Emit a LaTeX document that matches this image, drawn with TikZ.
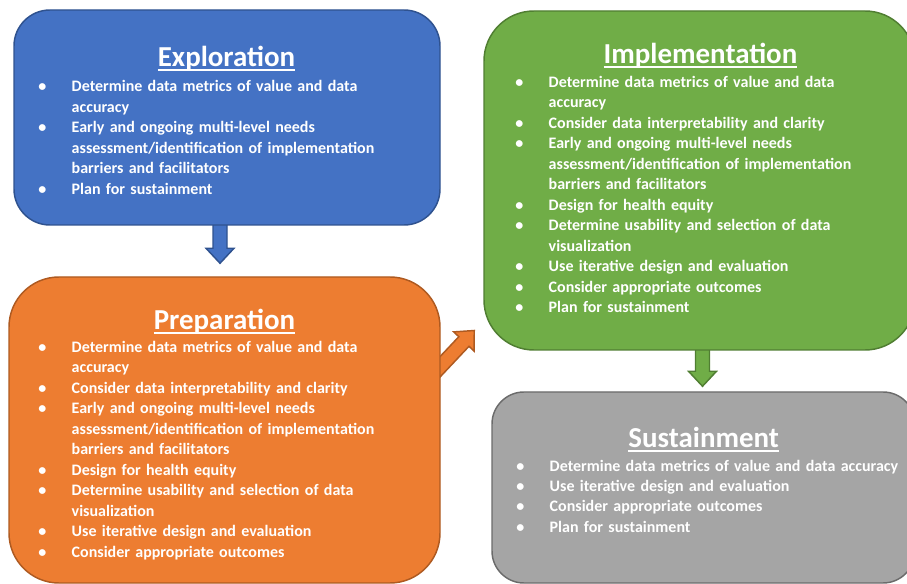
\documentclass[tikz,border=0pt]{standalone}
\usepackage{fontspec}
\setmainfont{Carlito}
\usetikzlibrary{calc,backgrounds}

% phase colours: fill and outline
\definecolor{explfill}{HTML}{4472C4}
\definecolor{explline}{HTML}{2F528F}
\definecolor{implfill}{HTML}{70AD47}
\definecolor{implline}{HTML}{507E32}
\definecolor{prepfill}{HTML}{ED7D31}
\definecolor{prepline}{HTML}{AE5A21}
\definecolor{sustfill}{HTML}{A5A5A5}
\definecolor{sustline}{HTML}{6B6B6B}

% list helpers: bullet line and continuation line
\newcommand\bul{\makebox[22.1pt][l]{\makebox[0pt]{\textbullet}}}
\newcommand\cont{\hspace*{22.1pt}}

% underlined heading with the rule just under the baseline
\newsavebox\headbox
\newcommand\headline[1]{\sbox\headbox{#1}\rlap{\rule[-3.2pt]{\wd\headbox}{1.4pt}}\usebox\headbox}

% block arrow from #1 to #2 (tip), style #3
\newcommand\blockarrow[3]{%
  \draw[#3] let \p1=($(#2)-(#1)$), \n1={atan2(\y1,\x1)}, \n2={veclen(\x1,\y1)}, \n3={\n2-11.25pt} in
    ($(#1)+(\n1+90:5.25pt)$) -- ++(\n1:\n3) -- ++(\n1+90:5.25pt) -- (#2)
    -- ($(#1)+(\n1:\n3)+(\n1-90:10.5pt)$) -- ++(\n1+90:5.25pt)
    -- ($(#1)+(\n1-90:5.25pt)$) -- cycle;}

\begin{document}
\begin{tikzpicture}[x=0.75pt,y=-0.75pt,
  phase/.style={draw, line width=1.1pt, rounded corners=#1, inner sep=0pt},
  heading/.style={anchor=base, inner sep=0pt, text=white,
    font=\fontsize{21.7}{26}\selectfont\bfseries},
  items/.style={anchor=base west, inner sep=0pt, text=white, text width=320pt, align=left,
    font=\fontsize{12.0}{15.375}\selectfont\bfseries},
  flow/.style={line width=1.1pt, line join=miter}]

\useasboundingbox (0,0) rectangle (907,584);
\clip (0,0) rectangle (907,584);

% phase boxes
\node[phase=27pt, fill=explfill, draw=explline, minimum width=319.5pt, minimum height=161.25pt] (expl) at (227,117.5) {};
\node[phase=37.5pt, fill=implfill, draw=implline, minimum width=323.25pt, minimum height=254.25pt] (impl) at (699.5,180.5) {};
\node[phase=37.5pt, fill=prepfill, draw=prepline, minimum width=323.25pt, minimum height=229.5pt] (prep) at (224.5,430) {};
\node[phase=24pt, fill=sustfill, draw=sustline, minimum width=317.25pt, minimum height=143.25pt] (sust) at (703.5,487.5) {};

% Exploration
\node[heading] (explT) at (226.5,66.7) {\headline{Exploration}};
\node[items] (explL) at (42,91.7) {%
\bul Determine data metrics of value and data\\
\cont accuracy\\
\bul Early and ongoing multi-level needs\\
\cont assessment/identification of implementation\\
\cont barriers and facilitators\\
\bul Plan for sustainment};

% Implementation
\node[heading] (implT) at (700.5,63.3) {\headline{Implementation}};
\node[items] (implL) at (519,87.3) {%
\bul Determine data metrics of value and data\\
\cont accuracy\\
\bul Consider data interpretability and clarity\\
\bul Early and ongoing multi-level needs\\
\cont assessment/identification of implementation\\
\cont barriers and facilitators\\
\bul Design for health equity\\
\bul Determine usability and selection of data\\
\cont visualization\\
\bul Use iterative design and evaluation\\
\bul Consider appropriate outcomes\\
\bul Plan for sustainment};

% Preparation
\node[heading] (prepT) at (224.5,329.3) {\headline{Preparation}};
\node[items] (prepL) at (42,352.3) {%
\bul Determine data metrics of value and data\\
\cont accuracy\\
\bul Consider data interpretability and clarity\\
\bul Early and ongoing multi-level needs\\
\cont assessment/identification of implementation\\
\cont barriers and facilitators\\
\bul Design for health equity\\
\bul Determine usability and selection of data\\
\cont visualization\\
\bul Use iterative design and evaluation\\
\bul Consider appropriate outcomes};

% Sustainment
\node[heading] (sustT) at (703.7,447.3) {\headline{Sustainment}};
\node[items] (sustL) at (520,471) {%
\bul Determine data metrics of value and data accuracy\\
\bul Use iterative design and evaluation\\
\bul Consider appropriate outcomes\\
\bul Plan for sustainment};

% transitions between phases, tails tucked under the boxes
\coordinate (a1s) at ($(expl.south)+(-7,-10)$);
\coordinate (a1e) at ($(prep.north)+(-4.5,-13)$);
\coordinate (a2s) at ($(prep.east)+(-15,-48)$);
\coordinate (a2e) at ($(impl.west)+(-9,150)$);
\coordinate (a3s) at ($(impl.south)+(3,-10)$);
\coordinate (a3e) at ($(sust.north)+(-1,-5)$);
\begin{scope}[on background layer]
  \blockarrow{a1s}{a1e}{flow, fill=explfill, draw=explline}
  \blockarrow{a2s}{a2e}{flow, fill=prepfill, draw=prepline}
  \blockarrow{a3s}{a3e}{flow, fill=implfill, draw=implline}
\end{scope}
\end{tikzpicture}
\end{document}
